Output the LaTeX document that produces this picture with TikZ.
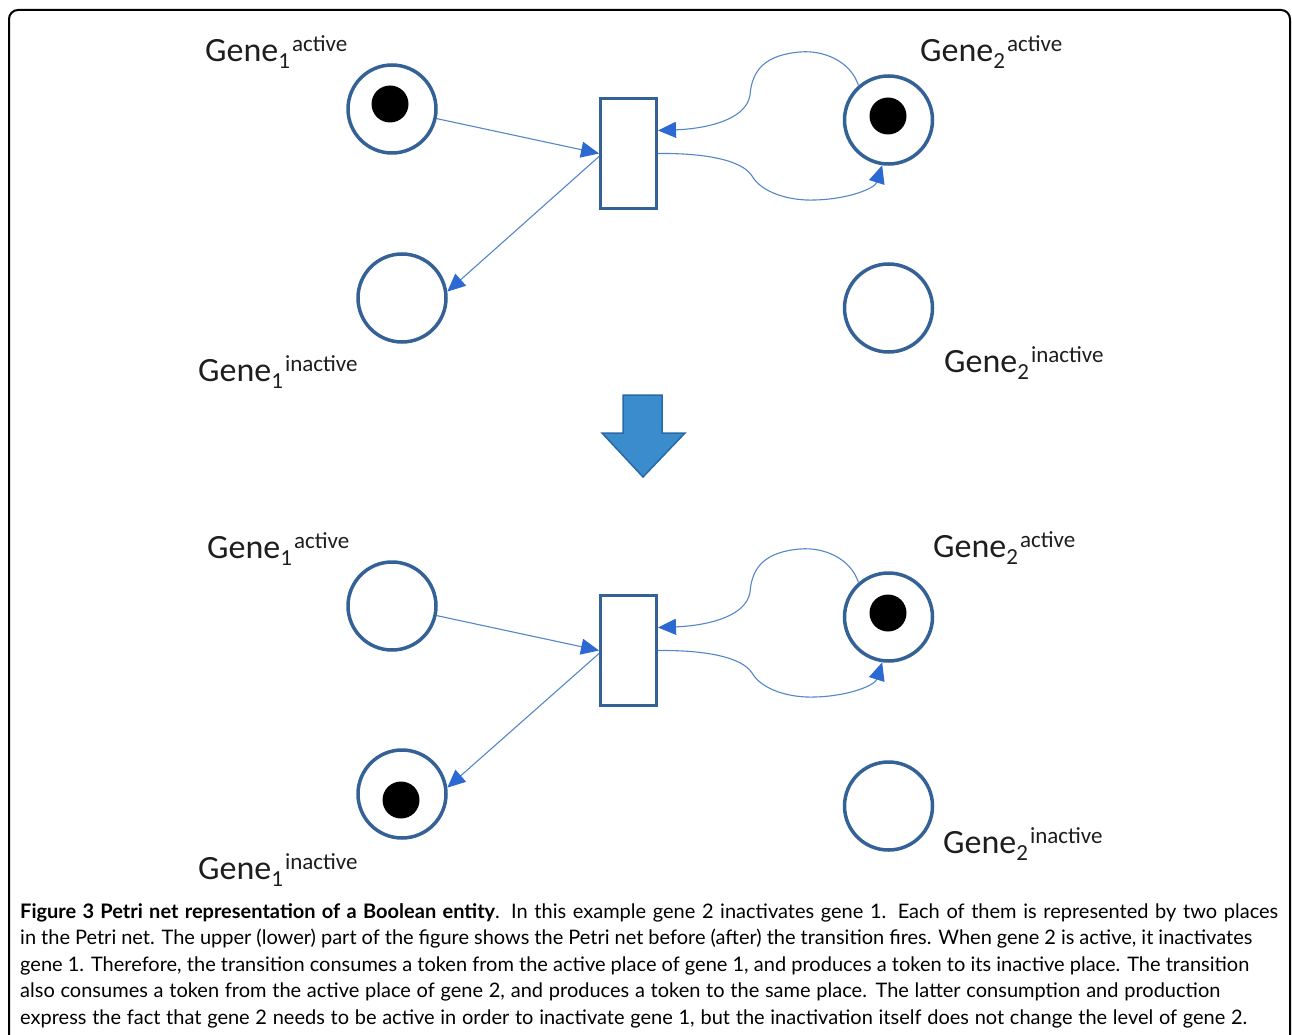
\documentclass[tikz,border=0pt]{standalone}
\usepackage{fontspec}
\setmainfont{Carlito}
\newfontfamily\capfont{Lato}
\usetikzlibrary{arrows.meta}
\definecolor{placeblue}{RGB}{52,98,150}
\definecolor{arcblue}{RGB}{85,135,200}
\definecolor{tipblue}{RGB}{45,105,210}
\definecolor{bigfill}{RGB}{58,140,205}
\definecolor{bigedge}{RGB}{40,105,165}
\definecolor{txt}{RGB}{30,30,30}
\newcommand\glab[2]{{\fontsize{34pt}{34pt}\selectfont Gene}\raisebox{-7pt}{\fontsize{23pt}{23pt}\selectfont #1}\kern2pt\raisebox{10pt}{\fontsize{23pt}{23pt}\selectfont #2}}
\tikzset{
 place/.style={circle, draw=placeblue, line width=3.5pt, minimum size=88pt, inner sep=0pt},
 token/.style={circle, fill=black, minimum size=37pt, inner sep=0pt},
 trans/.style={rectangle, draw=placeblue, line width=3pt, minimum width=56pt, minimum height=110pt, inner sep=0pt},
 arc/.style={draw=arcblue, line width=1.1pt, -{Triangle[length=18pt,width=16pt,fill=tipblue,color=tipblue]}},
 lab/.style={anchor=base west, inner sep=0pt, text=txt},
 capline/.style={anchor=base west, inner sep=0pt, text=black, font=\capfont\fontsize{20pt}{20pt}\selectfont},
}
\begin{document}
\begin{tikzpicture}[x=1pt,y=-1pt]
\useasboundingbox (0,0) rectangle (1292,1035);
\fill[white] (0,0) rectangle (1292,1035);
\draw[line width=2pt, rounded corners=9pt] (9,10) rectangle (1290,1060);

% ---------- upper net ----------
\node[place] (a1) at (392,109) {};
\node[token] (ta1) at (390,104) {};
\node[place] (i1) at (402,298) {};
\node[place] (a2) at (888.5,120) {};
\node[token] (ta2) at (888,116) {};
\node[place] (i2) at (888.5,308) {};
\node[trans] (t) at (628.5,153.5) {};
\draw[arc] (a1) -- (t.west);
\draw[arc] ([yshift=-3pt]t.west) -- (i1.8);
\draw[arc] (a2.131) .. controls (850,60) and (822,50) .. (800,52)
  .. controls (765,55) and (752,70) .. (750,95)
  .. controls (746,122) and (700,129) .. ([yshift=23pt]t.east);
\draw[arc] (t.east) .. controls (705,153) and (742,160) .. (752,176)
  .. controls (762,193) and (790,201) .. (815,200)
  .. controls (850,199) and (875,188) .. (a2.262);

\node[lab] (la1) at (205,62) {\glab{1}{active}};
\node[lab] (la2) at (920,62) {\glab{2}{active}};
\node[lab] (li1) at (198,381) {\glab{1}{inactive}};
\node[lab] (li2) at (944,372) {\glab{2}{inactive}};

% ---------- big arrow ----------
\filldraw[fill=bigfill, draw=bigedge, line width=1.5pt, line join=miter]
  (623,395) -- (662,395) -- (662,433) -- (685,433) -- (643,477) -- (602,433) -- (623,433) -- cycle;

% ---------- lower net ----------
\begin{scope}[yshift=-497pt]
\node[place] (A1) at (392,109) {};
\node[place] (I1) at (402,297) {};
\node[token] (TI1) at (401,303) {};
\node[place] (A2) at (888.5,120) {};
\node[token] (TA2) at (888,116) {};
\node[place] (I2) at (888.5,309) {};
\node[trans] (T) at (628.5,153.5) {};
\draw[arc] (A1) -- (T.west);
\draw[arc] ([yshift=-3pt]T.west) -- (I1.8);
\draw[arc] (A2.131) .. controls (850,60) and (822,50) .. (800,52)
  .. controls (765,55) and (752,70) .. (750,95)
  .. controls (746,122) and (700,129) .. ([yshift=23pt]T.east);
\draw[arc] (T.east) .. controls (705,153) and (742,160) .. (752,176)
  .. controls (762,193) and (790,201) .. (815,200)
  .. controls (850,199) and (875,188) .. (A2.262);
\end{scope}

\node[lab] (LA1) at (207,558) {\glab{1}{active}};
\node[lab] (LA2) at (933,557) {\glab{2}{active}};
\node[lab] (LI1) at (198,879) {\glab{1}{inactive}};
\node[lab] (LI2) at (943,853) {\glab{2}{inactive}};

% ---------- caption ----------
\node[capline] (c1) at (20,918) {\makebox[1258pt][s]{\textbf{Figure 3 Petri net representation of a Boolean entity}. In this example gene 2 inactivates gene 1. Each of them is represented by two places}};
\node[capline] (c2) at (20,944.5) {\makebox[1232pt][s]{in the Petri net. The upper (lower) part of the figure shows the Petri net before (after) the transition fires. When gene 2 is active, it inactivates}};
\node[capline] (c3) at (20,971) {\makebox[1229pt][s]{gene 1. Therefore, the transition consumes a token from the active place of gene 1, and produces a token to its inactive place. The transition}};
\node[capline] (c4) at (20,997.5) {\makebox[1200pt][s]{also consumes a token from the active place of gene 2, and produces a token to the same place. The latter consumption and production}};
\node[capline] (c5) at (20,1024) {\makebox[1227pt][s]{express the fact that gene 2 needs to be active in order to inactivate gene 1, but the inactivation itself does not change the level of gene 2.}};
\end{tikzpicture}
\end{document}
